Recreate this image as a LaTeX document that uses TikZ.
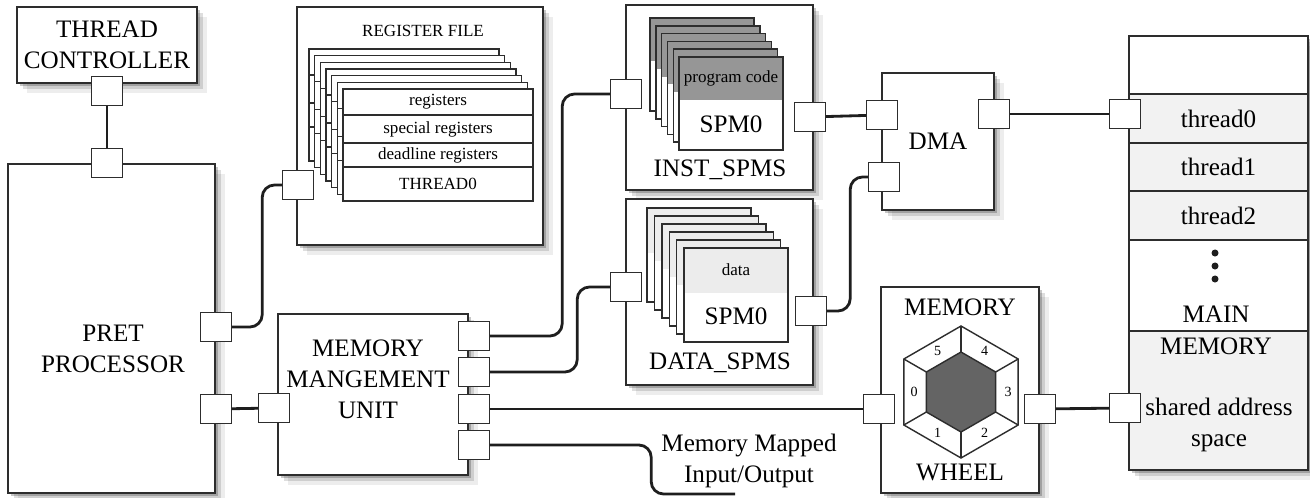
\documentclass[tikz,border=0pt]{standalone}
\usepackage{fontspec}
\setmainfont{Liberation Serif}
\newfontfamily\timesfont{Liberation Serif}
\usetikzlibrary{shadows}
\definecolor{boxline}{RGB}{45,45,45}
\definecolor{wirecol}{RGB}{30,30,30}
\definecolor{spmgray}{RGB}{150,150,150}
\definecolor{datagray}{RGB}{236,236,236}
\definecolor{rowgray}{RGB}{242,242,242}
\definecolor{hexgray}{RGB}{100,100,100}
\tikzstyle{bigtxt}=[font=\timesfont\fontsize{14.3}{17.6}\selectfont]
\tikzstyle{smalltxt}=[font=\timesfont\fontsize{9.7}{11}\selectfont]
\tikzstyle{tinytxt}=[font=\timesfont\fontsize{8}{9}\selectfont]
\tikzstyle{softshadow}=[drop shadow={shadow xshift=1.5pt,shadow yshift=-1.5pt,opacity=.22,fill=black},
  drop shadow={shadow xshift=3.5pt,shadow yshift=-3.5pt,opacity=.13,fill=black},
  drop shadow={shadow xshift=5.5pt,shadow yshift=-5.5pt,opacity=.07,fill=black}]
\tikzstyle{box}=[draw=boxline,line width=0.8pt,fill=white,inner sep=0,softshadow]
\tikzstyle{port}=[draw=boxline,line width=0.8pt,fill=white,minimum width=0.62cm,minimum height=0.58cm,inner sep=0]
\tikzstyle{sheet}=[draw=boxline,line width=0.8pt,fill=white]
\tikzstyle{row}=[draw=boxline,line width=0.8pt,fill=rowgray,inner sep=0,minimum width=3.58cm,bigtxt]
\tikzstyle{wire}=[line width=1.6pt,draw=wirecol,rounded corners=7pt]

\begin{document}
\begin{tikzpicture}[x=0.02cm,y=-0.02cm]
\useasboundingbox (0,0) rectangle (1310,497);

% main blocks
\node[box,minimum width=3.6cm,minimum height=1.52cm,align=center,bigtxt] (tc) at (107,45) {THREAD\\CONTROLLER};
\node[box,minimum width=4.14cm,minimum height=6.58cm] (pret) at (111.5,328.5) {};
\node[align=center,bigtxt] (pretlbl) at (113,349) {PRET\\PROCESSOR};
\node[box,minimum width=4.92cm,minimum height=4.76cm] (regfile) at (420,126) {};
\node[smalltxt] (reglbl) at (423,31) {REGISTER FILE};
\node[box,minimum width=3.74cm,minimum height=3.7cm] (inst) at (719.5,97.5) {};
\node[bigtxt] (instlbl) at (720,170) {INST\_SPMS};
\node[box,minimum width=3.74cm,minimum height=3.72cm] (data) at (719.5,292) {};
\node[bigtxt] (datalbl) at (720,363) {DATA\_SPMS};
\node[box,minimum width=2.24cm,minimum height=2.74cm] (dma) at (938,141.5) {};
\node[bigtxt] (dmalbl) at (938,141) {DMA};
\node[box,minimum width=3.8cm,minimum height=3.22cm] (mmu) at (373,394.5) {};
\node[align=center,bigtxt] (mmulbl) at (368,379) {MEMORY\\MANGEMENT\\UNIT};
\node[box,minimum width=3.16cm,minimum height=4.12cm] (wheel) at (960,390) {};
\node[bigtxt] (wheeltop) at (960,307) {MEMORY};
\node[bigtxt] (wheelbot) at (960,472) {WHEEL};
\node[box,minimum width=3.58cm,minimum height=8.68cm] (mem) at (1218.5,253) {};

% register file sheets
\foreach \k in {6,...,0}{
  \begin{scope}[shift={(343-5.67*\k,89-6.67*\k)}]
    \draw[sheet] (0,0) rectangle (190,112);
    \draw[sheet] (0,26) -- (190,26) (0,54) -- (190,54) (0,78) -- (190,78);
  \end{scope}
}
\node[smalltxt] (reg0) at (438,102) {registers};
\node[smalltxt] (reg1) at (438,129) {special registers};
\node[smalltxt] (reg2) at (438,155) {deadline registers};
\node[smalltxt] (reg3) at (438,184) {THREAD0};

% scratchpads
\foreach \k in {5,...,0}{
  \begin{scope}[shift={(679-5.8*\k,57-7.8*\k)}]
    \fill[white] (0,0) rectangle (104,93);
    \fill[spmgray] (0,0) rectangle (104,43);
    \draw[boxline,line width=0.8pt] (0,0) rectangle (104,93);
  \end{scope}
  \begin{scope}[shift={(684-7.4*\k,248-8*\k)}]
    \fill[white] (0,0) rectangle (104,94);
    \fill[datagray] (0,0) rectangle (104,45);
    \draw[boxline,line width=0.8pt] (0,0) rectangle (104,94);
  \end{scope}
}
\node[smalltxt] (code) at (731,78) {program code};
\node[bigtxt] (spmi) at (731,124) {SPM0};
\node[smalltxt] (dtxt) at (736,270) {data};
\node[bigtxt] (spmd) at (736,316) {SPM0};

% main memory
\node[row,minimum height=0.98cm] (th0) at (1218.5,118.5) {thread0};
\node[row,minimum height=0.96cm] (th1) at (1218.5,167) {thread1};
\node[row,minimum height=0.98cm] (th2) at (1218.5,215.5) {thread2};
\node[row,minimum height=2.78cm] (shared) at (1218.5,400.5) {};
\foreach \y in {253,266,279}
  \fill[wirecol] (1215,\y) circle (2pt);
\node[bigtxt] (mainlbl) at (1216,314) {MAIN};
\node[bigtxt] (memlbl) at (1216,346) {MEMORY};
\node[align=center,bigtxt] (sharedlbl) at (1219,425) {shared address\\space};

% memory wheel
\coordinate (hc) at (961,392);
\draw[boxline,line width=0.8pt,fill=white] (hc) +(30:66) -- +(90:66) -- +(150:66) -- +(210:66) -- +(270:66) -- +(330:66) -- cycle;
\foreach \a in {30,90,...,330}
  \draw[boxline,line width=0.8pt] (hc) +(\a:40) -- +(\a:66);
\draw[boxline,line width=0.8pt,fill=hexgray] (hc) +(30:40) -- +(90:40) -- +(150:40) -- +(210:40) -- +(270:40) -- +(330:40) -- cycle;
\foreach \k/\a in {0/180,1/120,2/60,3/0,4/-60,5/-120}
  \path (hc) +(\a:47) node[tinytxt] (seg\k) {\k};

% ports
\node[port] (tcP) at (107,91) {};
\node[port] (pretT) at (107,163) {};
\node[port] (pretR1) at (216,327) {};
\node[port] (pretR2) at (216,409) {};
\node[port] (regP) at (298,185) {};
\node[port] (mmuL) at (274,408) {};
\foreach \i/\y in {1/336,2/372,3/409,4/445}
  \node[port] (mmuR\i) at (474,\y) {};
\node[port] (instL) at (626,94) {};
\node[port] (instR) at (810,117) {};
\node[port] (dataL) at (626,287) {};
\node[port] (dataR) at (811,311) {};
\node[port] (dmaL1) at (882,115) {};
\node[port] (dmaL2) at (884,177) {};
\node[port] (dmaR) at (994,114) {};
\node[port] (wheelL) at (879,409) {};
\node[port] (wheelR) at (1040,409) {};
\node[port] (memP0) at (1125,114) {};
\node[port] (memP1) at (1125,408) {};

% connections
\coordinate (ioend) at (735,494);
\draw[wire] (tcP) -- (pretT);
\draw[wire] (pretR1.east) -- ++(30,0) |- (regP.west);
\draw[wire] (pretR2) -- (mmuL);
\draw[wire] (mmuR1.east) -- ++(72,0) |- (instL.west);
\draw[wire] (mmuR2.east) -- ++(87,0) |- (dataL.west);
\draw[wire] (mmuR3) -- (wheelL);
\draw[wire] (mmuR4.east) -- ++(161,0) |- (ioend);
\draw[wire] (instR) -- (dmaL1);
\draw[wire] (dataR.east) -- ++(23,0) |- (dmaL2.west);
\draw[wire] (dmaR) -- (memP0);
\draw[wire] (wheelR) -- (memP1);
\node[align=center,bigtxt] (iolbl) at (749,461) {Memory Mapped\\Input/Output};
\end{tikzpicture}
\end{document}
